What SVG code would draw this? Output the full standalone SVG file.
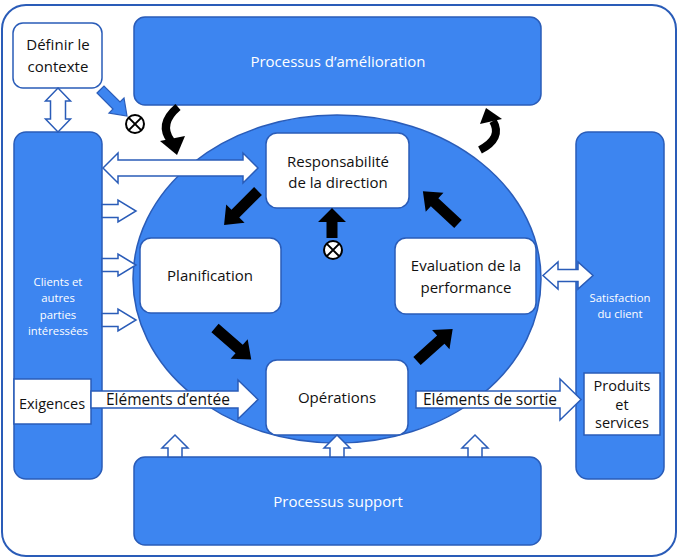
<svg xmlns="http://www.w3.org/2000/svg" width="678" height="560" viewBox="0 0 678 560">
<style>
.frame{fill:#ffffff;stroke:#2a5cb8;stroke-width:2}
.blue{fill:#3d85f0;stroke:#2a5cb8;stroke-width:1.5}
.box{fill:#ffffff;stroke:#2a5cb8;stroke-width:1.5}
.sq{fill:#ffffff;stroke:#2a5cb8;stroke-width:1.5}
.hol{fill:#ffffff;stroke:#2a5cb8;stroke-width:1.5;stroke-linejoin:miter}
.blk{fill:#000000}
.bluearr{fill:#3d85f0;stroke:#2a5cb8;stroke-width:1.2}
.otimes{fill:#ffffff;stroke:#000000;stroke-width:2}
text{font-family:"Open Sans","Noto Sans","Liberation Sans",sans-serif;text-anchor:middle}
.t{font-size:15px;fill:#111111}
.tw{font-size:15px;fill:#ffffff}
.ts{font-size:11.3px;fill:#ffffff}
.tl{font-size:15.5px;fill:#111111}
.te{font-size:14.5px;fill:#111111}
</style>
<defs>
<path id="blkArrow" d="M0,-5.5 L32,-5.5 L32,-13 L48,0 L32,13 L32,5.5 L0,5.5 Z"/>
<path id="rightHol" d="M0,-6.5 L16,-6.5 L16,-11 L34,0 L16,11 L16,6.5 L0,6.5 Z"/>
<path id="upHol" d="M-7,0 L-7,-9 L-13,-9 L0,-22 L13,-9 L7,-9 L7,0 Z"/>
<g id="otimesSym">
<circle r="9" class="otimes"/>
<path d="M-6.4,-6.4 L6.4,6.4 M-6.4,6.4 L6.4,-6.4" stroke="#000" stroke-width="2"/>
</g>
</defs>

<rect id="frame" class="frame" x="2" y="5" width="674" height="551" rx="24"/>

<g id="node-amelioration">
<rect class="blue" x="134" y="17" width="407" height="88" rx="11"/>
<text class="tw" x="338" y="67">Processus d’amélioration</text>
</g>

<g id="node-support">
<rect class="blue" x="134" y="457" width="407" height="88" rx="11"/>
<text class="tw" x="338" y="507">Processus support</text>
</g>

<g id="node-clients">
<rect class="blue" x="14" y="132" width="88" height="347" rx="12"/>
<text class="ts" x="58" y="286">Clients et</text>
<text class="ts" x="58" y="302">autres</text>
<text class="ts" x="58" y="319">parties</text>
<text class="ts" x="58" y="335">intéressées</text>
</g>

<g id="node-exigences">
<rect class="sq" x="14" y="379" width="77" height="45"/>
<text class="te" x="52" y="409">Exigences</text>
</g>

<g id="node-satisfaction">
<rect class="blue" x="576" y="132" width="88" height="347" rx="12"/>
<text class="ts" x="620" y="302">Satisfaction</text>
<text class="ts" x="620" y="318">du client</text>
</g>

<g id="node-produits">
<rect class="sq" x="584" y="373" width="76" height="62"/>
<text class="te" x="622" y="391">Produits</text>
<text class="te" x="622" y="410">et</text>
<text class="te" x="622" y="428">services</text>
</g>

<g id="node-contexte">
<rect class="box" x="13" y="23" width="89" height="65" rx="10"/>
<text class="t" x="58" y="50">Définir le</text>
<text class="t" x="58" y="72">contexte</text>
</g>

<g id="node-smq">
<ellipse class="blue" cx="337" cy="279" rx="204" ry="164"/>
</g>

<g id="node-responsabilite">
<rect class="box" x="266" y="133" width="143" height="75" rx="11"/>
<text class="t" x="338" y="167">Responsabilité</text>
<text class="t" x="338" y="188">de la direction</text>
</g>

<g id="node-planification">
<rect class="box" x="140" y="238" width="141" height="75" rx="11"/>
<text class="t" x="210" y="281">Planification</text>
</g>

<g id="node-evaluation">
<rect class="box" x="395" y="238" width="141" height="76" rx="11"/>
<text class="t" x="466" y="271">Evaluation de la</text>
<text class="t" x="466" y="293">performance</text>
</g>

<g id="node-operations">
<rect class="box" x="266" y="360" width="142" height="75" rx="11"/>
<text class="t" x="337" y="403">Opérations</text>
</g>

<g id="connectors">
<!-- contexte <-> clients -->
<path class="hol" d="M58,88 L70.5,101 L65.5,101 L65.5,119 L70.5,119 L58,132 L45.5,119 L50.5,119 L50.5,101 L45.5,101 Z"/>
<!-- clients <-> responsabilite -->
<path class="hol" d="M103,168 L118,153 L118,160 L243,160 L243,153 L258,168 L243,183 L243,176 L118,176 L118,183 Z"/>
<!-- clients -> smq -->
<use href="#rightHol" class="hol" x="102" y="211"/>
<use href="#rightHol" class="hol" x="102" y="265"/>
<use href="#rightHol" class="hol" x="102" y="320"/>
<!-- elements d'entree -->
<path class="hol" d="M91,391 L238,391 L238,380 L258,399.5 L238,419 L238,408 L91,408 Z"/>
<text class="tl" x="168" y="405">Eléments d’entée</text>
<!-- elements de sortie -->
<path class="hol" d="M416,391 L560,391 L560,379 L581,399.5 L560,420 L560,408 L416,408 Z"/>
<text class="tl" x="490" y="405">Eléments de sortie</text>
<!-- evaluation <-> satisfaction -->
<path class="hol" d="M543,275.5 L558,262 L558,269.5 L578,269.5 L578,262 L593,275.5 L578,289 L578,281.5 L558,281.5 L558,289 Z"/>
<!-- support -> smq -->
<use href="#upHol" class="hol" x="175" y="457"/>
<use href="#upHol" class="hol" x="337" y="457"/>
<use href="#upHol" class="hol" x="475" y="457"/>
<!-- contexte -> otimes (blue) -->
<path class="bluearr" d="M99,91 L104,86 L120,102 L124,98 L127,116 L109,113 L113,109 L97,93 Z"/>
<use href="#otimesSym" x="135" y="124"/>
<!-- amelioration -> smq curved -->
<path d="M178,107 Q158,124 171,141" fill="none" stroke="#000" stroke-width="8"/>
<polygon class="blk" points="160,141 185,136 177,155"/>
<!-- smq -> amelioration curved -->
<path d="M480,150 Q503,138 493,121" fill="none" stroke="#000" stroke-width="8"/>
<polygon class="blk" points="480,124 502,119 486,108"/>
<!-- cycle arrows -->
<use href="#blkArrow" class="blk" transform="translate(258,191) rotate(135)"/>
<use href="#blkArrow" class="blk" transform="translate(215,328) rotate(41)"/>
<use href="#blkArrow" class="blk" transform="translate(417,361) rotate(-42)"/>
<use href="#blkArrow" class="blk" transform="translate(458,224) rotate(-137)"/>
<!-- otimes -> responsabilite -->
<path class="blk" d="M326.5,238 L326.5,222 L318,222 L332,208 L346,222 L337.5,222 L337.5,238 Z"/>
<use href="#otimesSym" x="333" y="250"/>
</g>
</svg>
